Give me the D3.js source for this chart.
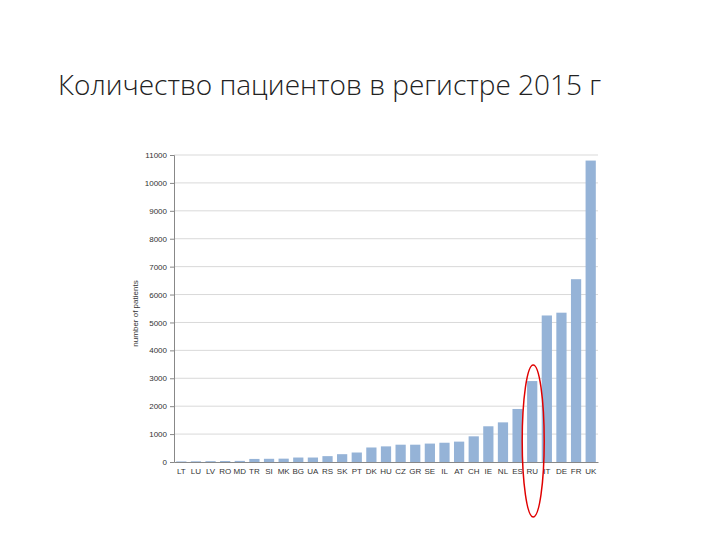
<!DOCTYPE html><html><head><meta charset="utf-8"><script src="https://d3js.org/d3.v7.min.js"></script>
<style>body{margin:0;background:#fff}</style></head><body><svg width="720" height="540"></svg><script>
const categories=["LT","LU","LV","RO","MD","TR","SI","MK","BG","UA","RS","SK","PT","DK","HU","CZ","GR","SE","IL","AT","CH","IE","NL","ES","RU","IT","DE","FR","UK"];
const values=[20,25,30,35,40,110,115,120,160,160,210,280,340,520,560,620,620,660,690,730,920,1280,1420,1900,2900,5250,5350,6550,10800];
const yTicks=[0,1000,2000,3000,4000,5000,6000,7000,8000,9000,10000,11000];
const highlight="RU";
const svg=d3.select("svg");
svg.append("text").attr("x",58).attr("y",95).attr("font-family","Open Sans").attr("font-weight",300).attr("font-size",28).attr("fill","#222").text("Количество пациентов в регистре 2015 г");
const m={l:174,r:598,t:155,b:462};
const x=d3.scaleBand().domain(categories).range([m.l,m.r]).paddingInner(0.3).paddingOuter(0.15);
const y=d3.scaleLinear().domain([0,11000]).range([m.b,m.t]);
svg.append("g").selectAll("line").data(yTicks.slice(1)).join("line").attr("x1",m.l).attr("x2",m.r).attr("y1",d=>y(d)).attr("y2",d=>y(d)).attr("stroke","#d9d9d9");
svg.append("g").selectAll("rect").data(values).join("rect").attr("x",(d,i)=>x(categories[i])).attr("width",x.bandwidth()).attr("y",d=>y(d)).attr("height",d=>m.b-y(d)).attr("fill","#95b3d7");
const ya=svg.append("g").attr("transform",`translate(${m.l},0)`).call(d3.axisLeft(y).tickValues(yTicks).tickSize(4).tickFormat(d3.format("d")));
ya.selectAll("text").attr("font-family","Liberation Sans").attr("font-size",8).attr("fill","#333");
ya.selectAll("path,line").attr("stroke","#888");
const xa=svg.append("g").attr("transform",`translate(0,${m.b})`).call(d3.axisBottom(x).tickSize(0).tickPadding(6));
xa.selectAll("text").attr("font-family","Liberation Sans").attr("font-size",8).attr("fill","#333");
xa.select("path").attr("stroke","#888");
svg.append("text").attr("transform",`translate(138,${(m.t+m.b)/2+5}) rotate(-90)`).attr("text-anchor","middle").attr("font-family","Liberation Sans").attr("font-size",8).attr("fill","#333").text("number of patients");
svg.append("ellipse").attr("cx",x(highlight)+x.bandwidth()/2+1).attr("cy",441).attr("rx",11).attr("ry",76).attr("fill","none").attr("stroke","#e00000").attr("stroke-width",1.5);
</script></body></html>
